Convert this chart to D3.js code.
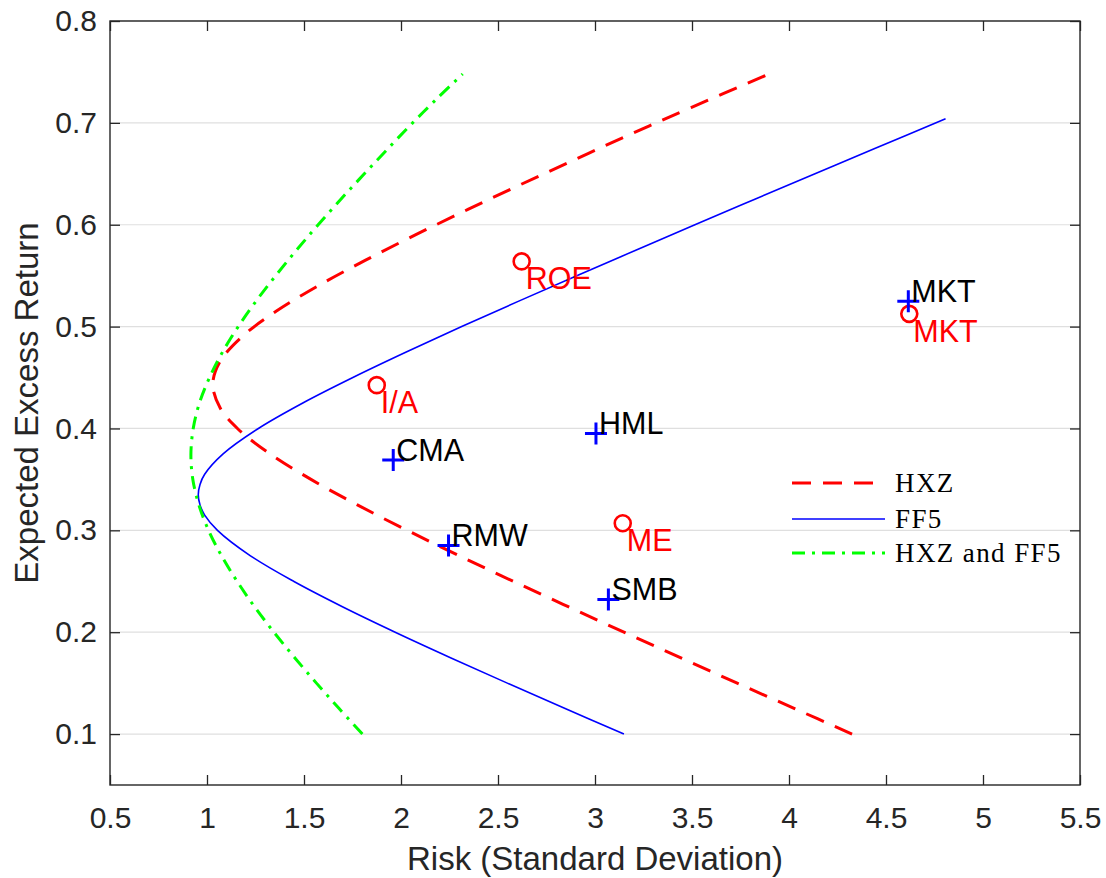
<!DOCTYPE html>
<html>
<head>
<meta charset="utf-8">
<script src="https://cdn.jsdelivr.net/npm/d3@7"></script>
<style>
body { margin: 0; background: #fff; }
</style>
</head>
<body>
<div class="canvas"></div>
<script>
// frontiers (expected excess return, risk)
var hxz_mu    = [0.100, 0.125, 0.150, 0.175, 0.200, 0.225, 0.250, 0.275, 0.300, 0.325, 0.350, 0.375, 0.400, 0.420, 0.443, 0.465, 0.490, 0.515, 0.540, 0.565, 0.590, 0.615, 0.640, 0.665, 0.690, 0.715, 0.747];
var hxz_sigma = [4.325, 4.029, 3.733, 3.440, 3.149, 2.862, 2.578, 2.301, 2.032, 1.775, 1.536, 1.325, 1.157, 1.068, 1.030, 1.065, 1.180, 1.356, 1.572, 1.815, 2.074, 2.345, 2.623, 2.908, 3.196, 3.495, 3.885];

var ff5_mu    = [0.100, 0.125, 0.150, 0.175, 0.200, 0.225, 0.250, 0.275, 0.300, 0.315, 0.325, 0.335, 0.345, 0.355, 0.375, 0.400, 0.425, 0.450, 0.475, 0.500, 0.525, 0.550, 0.575, 0.600, 0.625, 0.650, 0.675, 0.704];
var ff5_sigma = [3.149, 2.846, 2.548, 2.255, 1.970, 1.698, 1.446, 1.224, 1.054, 0.988, 0.964, 0.955, 0.964, 0.988, 1.083, 1.265, 1.494, 1.752, 2.027, 2.313, 2.607, 2.906, 3.210, 3.515, 3.824, 4.134, 4.445, 4.807];

var both_mu    = [0.100, 0.125, 0.150, 0.175, 0.200, 0.225, 0.250, 0.275, 0.300, 0.325, 0.350, 0.374, 0.400, 0.425, 0.450, 0.475, 0.500, 0.525, 0.550, 0.575, 0.600, 0.625, 0.650, 0.675, 0.700, 0.725, 0.748];
var both_sigma = [1.801, 1.681, 1.564, 1.452, 1.345, 1.245, 1.155, 1.075, 1.008, 0.958, 0.927, 0.917, 0.929, 0.961, 1.013, 1.080, 1.161, 1.253, 1.354, 1.461, 1.573, 1.690, 1.811, 1.934, 2.060, 2.192, 2.318];

// factors
var ff_names = ["MKT", "SMB", "HML", "RMW", "CMA"];
var ff_risk  = [4.615, 3.069, 3.005, 2.245, 1.960];
var ff_ret   = [0.525, 0.232, 0.395, 0.285, 0.369];

var hxz_names = ["MKT", "ME", "I/A", "ROE"];
var hxz_risk  = [4.620, 3.143, 1.875, 2.622];
var hxz_ret   = [0.5125, 0.307, 0.4425, 0.564];

var x_ticks = [0.5, 1, 1.5, 2, 2.5, 3, 3.5, 4, 4.5, 5, 5.5];
var y_ticks = [0.1, 0.2, 0.3, 0.4, 0.5, 0.6, 0.7, 0.8];

var legend_names = ["HXZ", "FF5", "HXZ and FF5"];

chart();

function chart() {
	var fig_width = 1106;
	var fig_height = 878;
	var left = 110, right = 1080, top = 21, bottom = 785;
	var axis_color = "#262626";

	var svg = d3.select("body div.canvas").append("svg")
		.attr("width", fig_width)
		.attr("height", fig_height)
		.style("display", "block");

	var x = d3.scaleLinear().domain([0.5, 5.5]).range([left, right]);
	var y = d3.scaleLinear().domain([0.05, 0.8]).range([bottom, top]);

	// horizontal grid
	svg.append("g")
		.selectAll("line")
		.data(y_ticks)
		.join("line")
		.attr("x1", left).attr("x2", right)
		.attr("y1", function(d) { return y(d); })
		.attr("y2", function(d) { return y(d); })
		.attr("stroke", "#dfdfdf")
		.attr("stroke-width", 1.2);

	var line = d3.line()
		.x(function(d) { return x(d[0]); })
		.y(function(d) { return y(d[1]); })
		.curve(d3.curveCatmullRom);

	function pairs(sig, mu) {
		return mu.map(function(m, i) { return [sig[i], m]; });
	}

	var series = [
		{ pts: pairs(hxz_sigma, hxz_mu), color: "#ff0000", width: 3, dash: "19,12" },
		{ pts: pairs(ff5_sigma, ff5_mu), color: "#0000ff", width: 1.6, dash: null },
		{ pts: pairs(both_sigma, both_mu), color: "#00ff00", width: 3, dash: "13,7,3,7" }
	];

	series.forEach(function(s) {
		svg.append("path")
			.attr("d", line(s.pts))
			.attr("fill", "none")
			.attr("stroke", s.color)
			.attr("stroke-width", s.width)
			.attr("stroke-dasharray", s.dash);
	});

	// HXZ factors: red circles
	svg.append("g")
		.selectAll("circle")
		.data(hxz_names)
		.join("circle")
		.attr("cx", function(d, i) { return x(hxz_risk[i]); })
		.attr("cy", function(d, i) { return y(hxz_ret[i]); })
		.attr("r", 8)
		.attr("fill", "none")
		.attr("stroke", "#ff0000")
		.attr("stroke-width", 2.6);

	// FF5 factors: blue plus
	svg.append("g")
		.selectAll("path")
		.data(ff_names)
		.join("path")
		.attr("d", function(d, i) {
			var px = x(ff_risk[i]), py = y(ff_ret[i]);
			return "M" + (px - 11) + "," + py + "H" + (px + 11) +
				"M" + px + "," + (py - 11) + "V" + (py + 11);
		})
		.attr("stroke", "#0000ff")
		.attr("stroke-width", 3)
		.attr("fill", "none");

	svg.append("g")
		.selectAll("text")
		.data(ff_names)
		.join("text")
		.attr("x", function(d, i) { return x(ff_risk[i]) + 3; })
		.attr("y", function(d, i) { return y(ff_ret[i]) + 0.5; })
		.text(function(d) { return d; })
		.style("font-family", "Liberation Sans, Arial, sans-serif")
		.style("font-size", "30.5px")
		.style("fill", "#000");

	svg.append("g")
		.selectAll("text")
		.data(hxz_names)
		.join("text")
		.attr("x", function(d, i) { return x(hxz_risk[i]) + 4; })
		.attr("y", function(d, i) { return y(hxz_ret[i]) + 28; })
		.text(function(d) { return d; })
		.style("font-family", "Liberation Sans, Arial, sans-serif")
		.style("font-size", "30.5px")
		.style("fill", "#ff0000");

	// axes, ticks pointing inward on all four sides
	function style_axis(g, hide_labels) {
		g.select(".domain").remove();
		g.selectAll(".tick line").attr("stroke", axis_color).attr("stroke-width", 1.3);
		g.selectAll(".tick text")
			.style("font-family", "Liberation Sans, Arial, sans-serif")
			.style("font-size", "30px")
			.style("fill", axis_color);
		if (hide_labels) g.selectAll(".tick text").remove();
	}

	svg.append("g")
		.attr("transform", "translate(0," + bottom + ")")
		.call(d3.axisBottom(x).tickValues(x_ticks).tickSizeInner(-10).tickSizeOuter(0).tickPadding(22).tickFormat(function(d) { return d; }))
		.call(style_axis, false);
	svg.append("g")
		.attr("transform", "translate(0," + top + ")")
		.call(d3.axisTop(x).tickValues(x_ticks).tickSizeInner(-10).tickSizeOuter(0))
		.call(style_axis, true);
	svg.append("g")
		.attr("transform", "translate(" + left + ",0)")
		.call(d3.axisLeft(y).tickValues(y_ticks).tickSizeInner(-10).tickSizeOuter(0).tickPadding(13).tickFormat(function(d) { return d; }))
		.call(style_axis, false);
	svg.append("g")
		.attr("transform", "translate(" + right + ",0)")
		.call(d3.axisRight(y).tickValues(y_ticks).tickSizeInner(-10).tickSizeOuter(0))
		.call(style_axis, true);

	svg.append("rect")
		.attr("x", left).attr("y", top)
		.attr("width", right - left).attr("height", bottom - top)
		.attr("fill", "none")
		.attr("stroke", axis_color)
		.attr("stroke-width", 1.4);

	svg.append("text")
		.attr("x", (left + right) / 2)
		.attr("y", 870)
		.attr("text-anchor", "middle")
		.text("Risk (Standard Deviation)")
		.style("font-family", "Liberation Sans, Arial, sans-serif")
		.style("font-size", "33px")
		.style("fill", axis_color);

	svg.append("text")
		.attr("transform", "translate(38," + ((top + bottom) / 2) + ") rotate(-90)")
		.attr("text-anchor", "middle")
		.text("Expected Excess Return")
		.style("font-family", "Liberation Sans, Arial, sans-serif")
		.style("font-size", "33px")
		.style("fill", axis_color);

	// legend (no box)
	var leg_y = [483, 519, 553];
	legend_names.forEach(function(name, i) {
		var s = series[i];
		svg.append("line")
			.attr("x1", 792).attr("x2", 885)
			.attr("y1", leg_y[i]).attr("y2", leg_y[i])
			.attr("stroke", s.color)
			.attr("stroke-width", s.width)
			.attr("stroke-dasharray", s.dash);
		svg.append("text")
			.attr("x", 895)
			.attr("y", leg_y[i] + 9)
			.text(name)
			.style("font-family", "Liberation Serif, Times New Roman, serif")
			.style("font-size", "27px")
			.style("letter-spacing", "1.4px")
			.style("fill", "#000");
	});
}
</script>
</body>
</html>
